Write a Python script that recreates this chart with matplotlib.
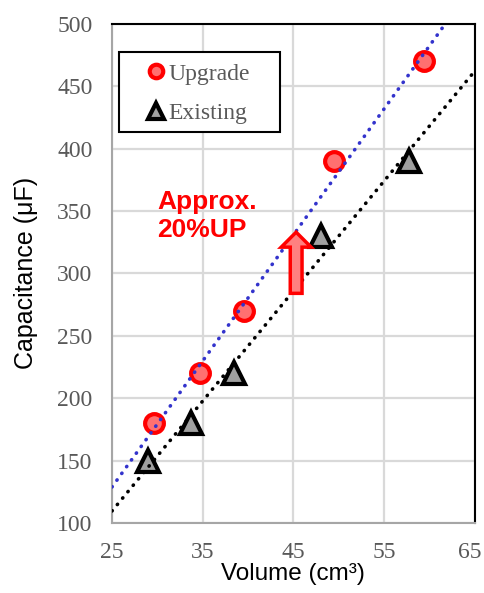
import matplotlib.pyplot as plt
import matplotlib.transforms as mtransforms
import numpy as np
from matplotlib.patches import FancyArrow, Rectangle

# data
upgrade_vol = [29.6, 34.7, 39.5, 49.5, 59.4]
upgrade_cap = [180, 220, 270, 390, 470]
existing_vol = [29.0, 33.7, 38.5, 48.0, 57.7]
existing_cap = [150, 180, 220, 330, 390]
x_ticks = [25, 35, 45, 55, 65]
y_ticks = [100, 150, 200, 250, 300, 350, 400, 450, 500]

fig = plt.figure(figsize=(4.85, 5.93), dpi=100)
ax = fig.add_axes([0.231, 0.118, 0.748, 0.842])

ax.set_xlim(25, 65)
ax.set_ylim(100, 500)
ax.set_xticks(x_ticks)
ax.set_yticks(y_ticks)
ax.grid(True, color="#d9d9d9", lw=1.6)
ax.set_axisbelow(True)
ax.tick_params(length=0, labelsize=17, labelcolor="#595959")
ax.tick_params(axis="x", pad=14)
ax.tick_params(axis="y", pad=14)
for lab in ax.get_xticklabels() + ax.get_yticklabels():
    lab.set_fontfamily("Liberation Serif")
# nudge the last x label so it stays inside the figure
last = ax.get_xticklabels()[-1]
last.set_transform(last.get_transform() +
                   mtransforms.ScaledTranslation(-4 / 72, 0, fig.dpi_scale_trans))

for side in ("left", "bottom"):
    ax.spines[side].set_color("#a6a6a6")
    ax.spines[side].set_linewidth(1.5)
for side in ("top", "right"):
    ax.spines[side].set_color("black")
    ax.spines[side].set_linewidth(1.5)

# linear trendlines
xs = np.linspace(25, 65, 200)
for vol, cap, col in [(upgrade_vol, upgrade_cap, "#3333cc"),
                      (existing_vol, existing_cap, "black")]:
    k, b = np.polyfit(vol, cap, 1)
    ax.plot(xs, k * xs + b, ls=(0, (0.1, 2.2)), lw=2.6, color=col,
            dash_capstyle="round", zorder=5)

ax.plot(upgrade_vol, upgrade_cap, "o", ms=13.5, mfc="#ff7070", mec="red",
        mew=3, label="Upgrade", zorder=4, clip_on=False)
ax.plot(existing_vol, existing_cap, "^", ms=15.5, mfc="#a0a0a0", mec="black",
        mew=3, label="Existing", zorder=4, clip_on=False)

ax.add_patch(FancyArrow(45.3, 284, 0, 49, width=1.3, head_width=3.3,
                        head_length=12, length_includes_head=True,
                        fc="#ff8080", ec="red", lw=2.5, zorder=6))
ax.text(30.0, 346, "Approx.\n20%UP", color="red", fontsize=19,
        fontweight="bold", family="Liberation Sans", va="center",
        ha="left", linespacing=1.25)

# legend box drawn separately so the padding can match
ax.add_patch(Rectangle((0.019, 0.784), 0.444, 0.16, transform=ax.transAxes,
                       fc="white", ec="black", lw=1.5, zorder=7))
leg = ax.legend(loc="upper left", bbox_to_anchor=(0.088, 0.921),
                prop={"family": "Liberation Serif", "size": 17},
                labelcolor="#595959", markerscale=0.72, frameon=False,
                handlelength=1.0, handletextpad=0.05, labelspacing=0.76,
                borderpad=0, borderaxespad=0)
leg.set_zorder(8)

ax.set_xlabel("Volume (cm³)", family="Liberation Sans", fontsize=17.5,
              labelpad=0)
ax.set_ylabel("Capacitance (μF)", family="Liberation Sans", fontsize=18,
              labelpad=14)

fig.savefig("out.png", dpi=100)
